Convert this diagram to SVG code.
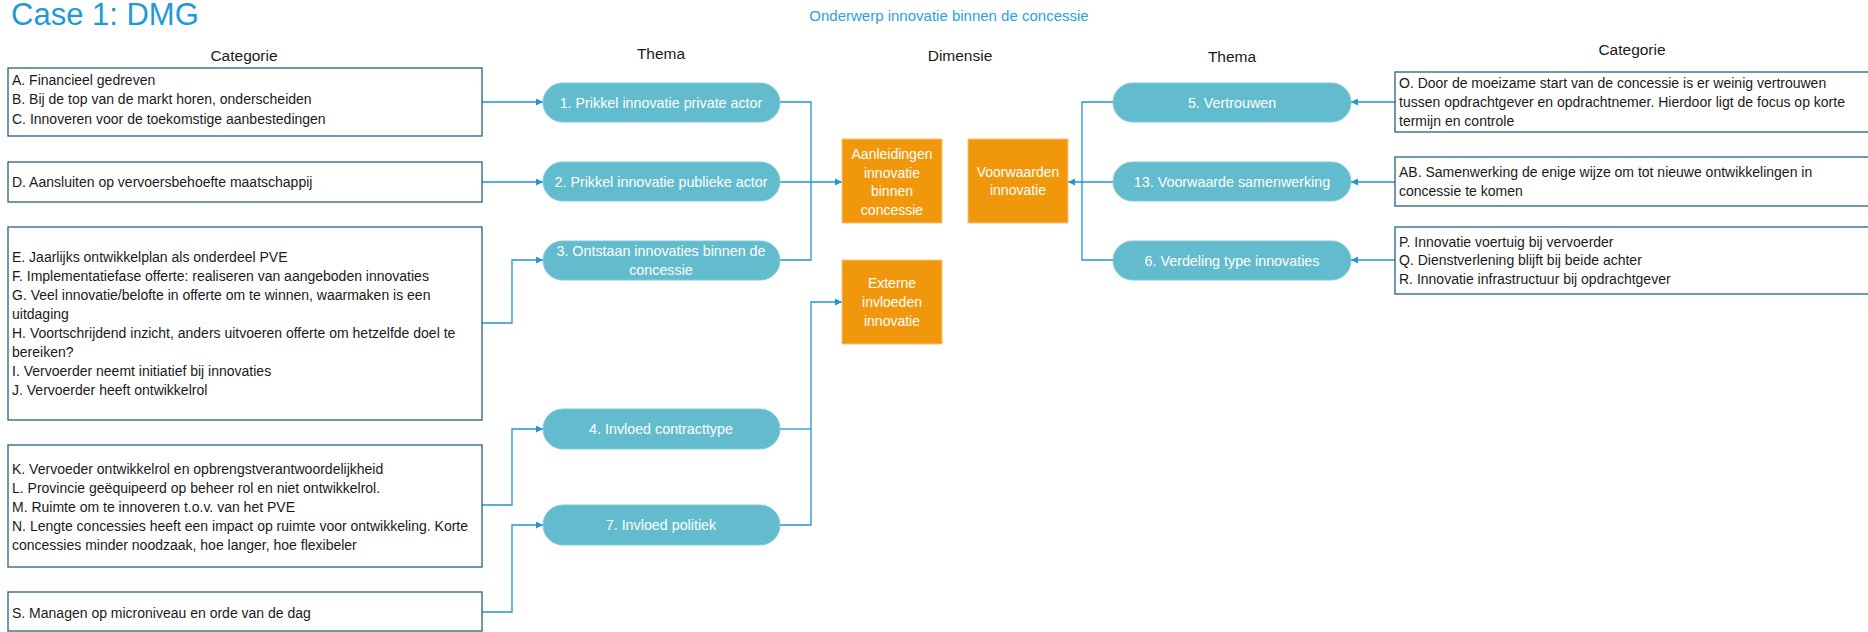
<svg xmlns="http://www.w3.org/2000/svg" width="1868" height="632" viewBox="0 0 1868 632">
  <style>
    text { font-family: "Liberation Sans", Arial, sans-serif; }
    .title { font-size: 31px; fill: #1e9bd7; }
    .subtitle { font-size: 15px; fill: #2aa1dc; }
    .head { font-size: 15.5px; fill: #1a1a1a; text-anchor: middle; }
    .cat rect { fill: #ffffff; stroke: #24627a; stroke-width: 1.3; }
    .cat text { font-size: 14px; fill: #1a1a1a; }
    .theme rect { fill: #62bccd; stroke: #7fcadb; stroke-width: 1; }
    .theme text { font-size: 14.3px; fill: #ffffff; text-anchor: middle; }
    .dim rect { fill: #f0970c; stroke: #f8c47e; stroke-width: 1; }
    .dim text { font-size: 14px; fill: #ffffff; text-anchor: middle; }
    .conn path { fill: none; stroke: #2394d6; stroke-width: 1.3; }
  </style>
  <defs>
    <marker id="arrow" viewBox="0 0 10 10" refX="10" refY="5" markerWidth="7" markerHeight="7" markerUnits="userSpaceOnUse" orient="auto">
      <path d="M0,0 L10,5 L0,10 z" fill="#2394d6"/>
    </marker>
  </defs>

  <!-- headings -->
  <text class="title" x="11" y="25">Case 1: DMG</text>
  <text class="subtitle" x="949" y="21" text-anchor="middle">Onderwerp innovatie binnen de concessie</text>
  <text class="head" x="244" y="61">Categorie</text>
  <text class="head" x="661" y="59">Thema</text>
  <text class="head" x="960" y="61">Dimensie</text>
  <text class="head" x="1232" y="62">Thema</text>
  <text class="head" x="1632" y="55">Categorie</text>

  <!-- connectors -->
  <g id="connectors" class="conn">
    <path d="M482,102 H543" marker-end="url(#arrow)"/>
    <path d="M482,182 H543" marker-end="url(#arrow)"/>
    <path d="M482,323 H512 V260 H543" marker-end="url(#arrow)"/>
    <path d="M482,505 H512 V429 H543" marker-end="url(#arrow)"/>
    <path d="M482,612 H512 V525 H543" marker-end="url(#arrow)"/>

    <path d="M780,102 H811 V260 H780"/>
    <path d="M780,182 H842" marker-end="url(#arrow)"/>
    <path d="M780,429 H811"/>
    <path d="M780,525 H811 V302 H842" marker-end="url(#arrow)"/>

    <path d="M1113,102 H1082 V260 H1113"/>
    <path d="M1113,182 H1068" marker-end="url(#arrow)"/>

    <path d="M1395,102 H1351" marker-end="url(#arrow)"/>
    <path d="M1395,182 H1351" marker-end="url(#arrow)"/>
    <path d="M1395,260 H1351" marker-end="url(#arrow)"/>
  </g>

  <!-- left categories -->
  <g id="cat-abc" class="cat">
    <rect x="8" y="68" width="474" height="68"/>
    <text x="12" y="85">A. Financieel gedreven</text>
    <text x="12" y="104">B. Bij de top van de markt horen, onderscheiden</text>
    <text x="12" y="124">C. Innoveren voor de toekomstige aanbestedingen</text>
  </g>
  <g id="cat-d" class="cat">
    <rect x="8" y="162" width="474" height="40"/>
    <text x="12" y="187">D. Aansluiten op vervoersbehoefte maatschappij</text>
  </g>
  <g id="cat-ej" class="cat">
    <rect x="8" y="227" width="474" height="193"/>
    <text x="12" y="262">E. Jaarlijks ontwikkelplan als onderdeel PVE</text>
    <text x="12" y="281">F. Implementatiefase offerte: realiseren van aangeboden innovaties</text>
    <text x="12" y="300">G. Veel innovatie/belofte in offerte om te winnen, waarmaken is een</text>
    <text x="12" y="319">uitdaging</text>
    <text x="12" y="338">H. Voortschrijdend inzicht, anders uitvoeren offerte om hetzelfde doel te</text>
    <text x="12" y="357">bereiken?</text>
    <text x="12" y="376">I. Vervoerder neemt initiatief bij innovaties</text>
    <text x="12" y="395">J. Vervoerder heeft ontwikkelrol</text>
  </g>
  <g id="cat-kn" class="cat">
    <rect x="8" y="445" width="474" height="122"/>
    <text x="12" y="474">K. Vervoeder ontwikkelrol en opbrengstverantwoordelijkheid</text>
    <text x="12" y="493">L. Provincie geëquipeerd op beheer rol en niet ontwikkelrol.</text>
    <text x="12" y="512">M. Ruimte om te innoveren t.o.v. van het PVE</text>
    <text x="12" y="531">N. Lengte concessies heeft een impact op ruimte voor ontwikkeling. Korte</text>
    <text x="12" y="550">concessies minder noodzaak, hoe langer, hoe flexibeler</text>
  </g>
  <g id="cat-s" class="cat">
    <rect x="8" y="592" width="474" height="39"/>
    <text x="12" y="618">S. Managen op microniveau en orde van de dag</text>
  </g>

  <!-- left themes -->
  <g id="theme-1" class="theme">
    <rect x="543" y="83" width="237" height="39" rx="19.5"/>
    <text x="661" y="107.5">1. Prikkel innovatie private actor</text>
  </g>
  <g id="theme-2" class="theme">
    <rect x="543" y="162" width="237" height="39" rx="19.5"/>
    <text x="661" y="187">2. Prikkel innovatie publieke actor</text>
  </g>
  <g id="theme-3" class="theme">
    <rect x="543" y="241" width="237" height="39" rx="19.5"/>
    <text x="661" y="256">3. Ontstaan innovaties binnen de</text>
    <text x="661" y="275">concessie</text>
  </g>
  <g id="theme-4" class="theme">
    <rect x="543" y="409" width="237" height="40" rx="20"/>
    <text x="661" y="434">4. Invloed contracttype</text>
  </g>
  <g id="theme-7" class="theme">
    <rect x="543" y="505" width="237" height="40" rx="20"/>
    <text x="661" y="530">7. Invloed politiek</text>
  </g>

  <!-- dimensions -->
  <g id="dim-aanleidingen" class="dim">
    <rect x="842" y="139" width="100" height="84"/>
    <text x="892" y="159">Aanleidingen</text>
    <text x="892" y="178">innovatie</text>
    <text x="892" y="196">binnen</text>
    <text x="892" y="215">concessie</text>
  </g>
  <g id="dim-voorwaarden" class="dim">
    <rect x="968" y="139" width="100" height="84"/>
    <text x="1018" y="177">Voorwaarden</text>
    <text x="1018" y="195">innovatie</text>
  </g>
  <g id="dim-externe" class="dim">
    <rect x="842" y="260" width="100" height="84"/>
    <text x="892" y="288">Externe</text>
    <text x="892" y="307">invloeden</text>
    <text x="892" y="326">innovatie</text>
  </g>

  <!-- right themes -->
  <g id="theme-5" class="theme">
    <rect x="1113" y="83" width="238" height="39" rx="19.5"/>
    <text x="1232" y="107.5">5. Vertrouwen</text>
  </g>
  <g id="theme-13" class="theme">
    <rect x="1113" y="162" width="238" height="39" rx="19.5"/>
    <text x="1232" y="187">13. Voorwaarde samenwerking</text>
  </g>
  <g id="theme-6" class="theme">
    <rect x="1113" y="241" width="238" height="39" rx="19.5"/>
    <text x="1232" y="265.5">6. Verdeling type innovaties</text>
  </g>

  <!-- right categories -->
  <g id="cat-o" class="cat">
    <rect x="1395" y="72" width="480" height="60"/>
    <text x="1399" y="88">O. Door de moeizame start van de concessie is er weinig vertrouwen</text>
    <text x="1399" y="107">tussen opdrachtgever en opdrachtnemer. Hierdoor ligt de focus op korte</text>
    <text x="1399" y="126">termijn en controle</text>
  </g>
  <g id="cat-ab" class="cat">
    <rect x="1395" y="157" width="480" height="49"/>
    <text x="1399" y="177">AB. Samenwerking de enige wijze om tot nieuwe ontwikkelingen in</text>
    <text x="1399" y="196">concessie te komen</text>
  </g>
  <g id="cat-pqr" class="cat">
    <rect x="1395" y="227" width="480" height="67"/>
    <text x="1399" y="247">P. Innovatie voertuig bij vervoerder</text>
    <text x="1399" y="265">Q. Dienstverlening blijft bij beide achter</text>
    <text x="1399" y="284">R. Innovatie infrastructuur bij opdrachtgever</text>
  </g>
</svg>
